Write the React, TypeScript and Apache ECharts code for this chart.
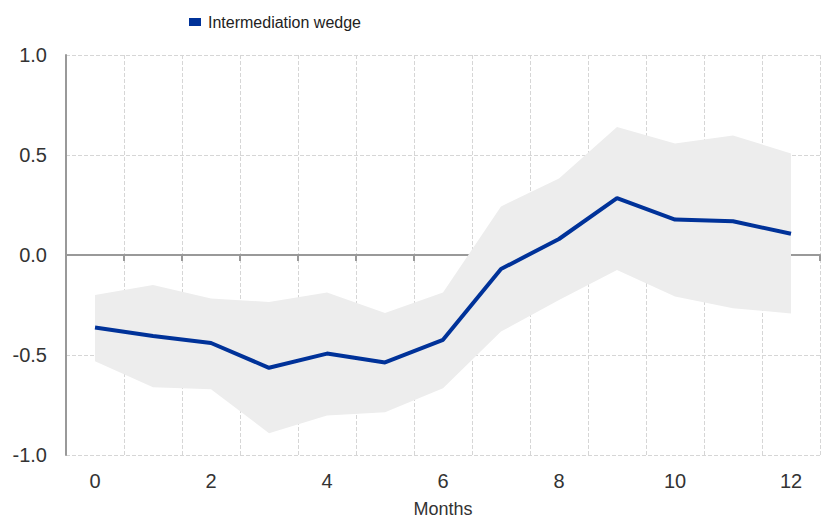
import React, { useEffect, useRef } from "react";
import * as echarts from "echarts";

const months = ["0", "1", "2", "3", "4", "5", "6", "7", "8", "9", "10", "11", "12"];
const wedge = [-0.363, -0.405, -0.44, -0.564, -0.493, -0.537, -0.424, -0.07, 0.08, 0.284, 0.177, 0.169, 0.106];
const upperBand = [-0.2, -0.15, -0.218, -0.235, -0.188, -0.29, -0.188, 0.243, 0.383, 0.64, 0.557, 0.597, 0.508];
const lowerBand = [-0.531, -0.661, -0.671, -0.891, -0.802, -0.786, -0.666, -0.383, -0.225, -0.075, -0.208, -0.266, -0.292];
const yTicks = [-1, -0.5, 0, 0.5, 1];

export default function App() {
  const ref = useRef<HTMLDivElement>(null);
  useEffect(() => {
    if (!ref.current) return;
    const chart = echarts.init(ref.current, null, { renderer: "svg" });
    const bandWidth = upperBand.map((u, i) => +(u - lowerBand[i]).toFixed(4));
    const font = "'Liberation Sans', Arial, sans-serif";
    chart.setOption({
      animation: false,
      textStyle: { fontFamily: font },
      legend: {
        left: 184,
        top: 9,
        icon: "rect",
        itemWidth: 12,
        itemHeight: 8,
        itemGap: 10,
        data: ["Intermediation wedge"],
        textStyle: { fontSize: 16, color: "#222", fontFamily: font, padding: [0, 0, 0, 2] },
      },
      grid: { left: 66, right: 1, top: 55, bottom: 62 },
      xAxis: [
        {
          type: "category",
          data: months,
          boundaryGap: true,
          position: "bottom",
          name: "Months",
          nameLocation: "middle",
          nameGap: 45,
          nameTextStyle: { fontSize: 18, color: "#333" },
          axisLine: { show: false, onZero: false },
          axisTick: { show: false },
          axisLabel: {
            fontSize: 20,
            color: "#333",
            margin: 16,
            interval: 0,
            formatter: (v: string) => (Number(v) % 2 === 0 ? v : ""),
          },
          splitLine: { show: true, lineStyle: { type: "dashed", color: "#d6d6d6", width: 1 } },
        },
        {
          type: "category",
          data: months,
          boundaryGap: true,
          position: "top",
          axisLine: { show: true, onZero: true, lineStyle: { color: "#999", width: 2 } },
          axisTick: { show: true, inside: true, length: 6, lineStyle: { color: "#999", width: 2 } },
          axisLabel: { show: false },
          splitLine: { show: false },
        },
      ],
      yAxis: {
        type: "value",
        min: -1,
        max: 1,
        interval: 0.5,
        axisLine: { show: true, lineStyle: { color: "#999", width: 2 } },
        axisTick: { show: false },
        axisLabel: {
          fontSize: 20,
          color: "#333",
          margin: 19,
          formatter: (v: number) => (yTicks.includes(v) ? v.toFixed(1) : ""),
        },
        splitLine: { show: true, lineStyle: { type: "dashed", color: "#d6d6d6", width: 1 } },
      },
      series: [
        {
          name: "lower",
          type: "line",
          data: lowerBand,
          stack: "band",
          stackStrategy: "all",
          symbol: "none",
          lineStyle: { opacity: 0 },
          silent: true,
          z: 1,
        },
        {
          name: "band",
          type: "line",
          data: bandWidth,
          stack: "band",
          stackStrategy: "all",
          symbol: "none",
          lineStyle: { opacity: 0 },
          areaStyle: { color: "#ededed", opacity: 1 },
          silent: true,
          z: 1,
        },
        {
          name: "Intermediation wedge",
          type: "line",
          data: wedge,
          symbol: "none",
          lineStyle: { color: "#003299", width: 4 },
          itemStyle: { color: "#003299" },
          z: 5,
        },
      ],
    });
    return () => chart.dispose();
  }, []);
  return (
    <div
      ref={ref}
      style={{ position: "absolute", left: 0, top: 0, width: 821, height: 523 }}
    />
  );
}
